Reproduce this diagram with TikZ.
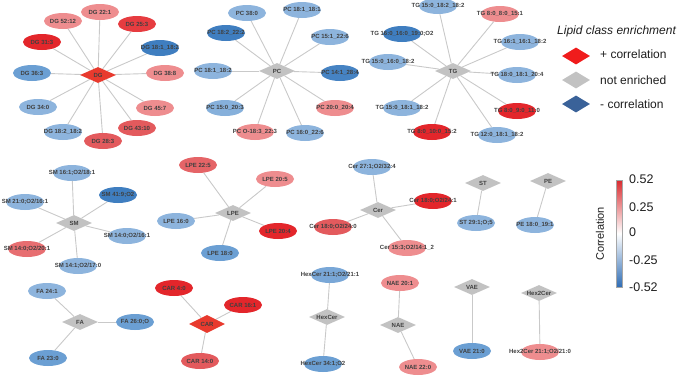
\documentclass[tikz,border=0pt]{standalone}
\usepackage{fontspec}
\setmainfont{Liberation Sans}
\usetikzlibrary{shapes.geometric, backgrounds}
\definecolor{RedHi}{HTML}{E3262B}
\definecolor{RedMd}{HTML}{E35A5D}
\definecolor{RedLo}{HTML}{EE8D8F}
\definecolor{BlueLo}{HTML}{8DB4DD}
\definecolor{BlueMd}{HTML}{6B9FD3}
\definecolor{BlueHi}{HTML}{3F7EC0}
\definecolor{ClassGray}{HTML}{C2C2C2}
\definecolor{ClassRed}{HTML}{E83A2E}
\definecolor{EdgeGray}{HTML}{C9C9C9}
\definecolor{LegRed}{HTML}{F01C1C}
\definecolor{LegBlue}{HTML}{3A6299}
\definecolor{BarRed}{HTML}{D92B2F}
\definecolor{BarBlue}{HTML}{2F6DB5}
\definecolor{Ink}{HTML}{1E1E1E}

\begin{document}
\begin{tikzpicture}[x=1pt, y=-1pt,
    lip/.style={ellipse, minimum width=38pt, minimum height=16pt, inner sep=0pt},
    lipcls/.style={diamond, minimum width=36pt, minimum height=16pt, inner sep=0pt},
    legdia/.style={diamond, minimum width=28pt, minimum height=17pt, inner sep=0pt},
    lnk/.style={draw=EdgeGray, line width=0.9pt},
    every label/.style={font=\fontsize{6}{7}\selectfont\bfseries, text=Ink!85, inner sep=0pt},
    legtxt/.style={font=\fontsize{12}{14}\selectfont, text=Ink, anchor=west, inner sep=0pt},
    cbtxt/.style={font=\fontsize{12.5}{14}\selectfont, text=Ink, anchor=west, inner sep=0pt}
]
\useasboundingbox (0,0) rectangle (685,376);

% DG
\node[lipcls, fill=ClassRed, label={center:{DG}}] (dg) at (98,75) {};
\node[lip, fill=RedLo, label={center:{DG 22:1}}] (dg221) at (100,12) {};
\node[lip, fill=RedLo, label={center:{DG 52:12}}] (dg5212) at (63,21) {};
\node[lip, fill=RedHi!90!white, label={center:{DG 25:3}}] (dg253) at (137,24) {};
\node[lip, fill=RedHi, label={center:{DG 31:3}}] (dg313) at (42,42) {};
\node[lip, fill=BlueHi, label={center:{DG 18:1\_18:2}}] (dg181182) at (160,48) {};
\node[lip, fill=BlueMd, label={center:{DG 36:3}}] (dg363) at (32,73) {};
\node[lip, fill=RedLo, label={center:{DG 38:8}}] (dg388) at (165,73) {};
\node[lip, fill=BlueLo, label={center:{DG 34:0}}] (dg340) at (38,107) {};
\node[lip, fill=RedLo, label={center:{DG 45:7}}] (dg457) at (155,108) {};
\node[lip, fill=BlueLo, label={center:{DG 18:2\_18:2}}] (dg182182) at (63,132) {};
\node[lip, fill=RedMd, label={center:{DG 43:10}}] (dg4310) at (137,128) {};
\node[lip, fill=RedMd, label={center:{DG 28:3}}] (dg283) at (103,141) {};

% PC
\node[lipcls, fill=ClassGray, label={center:{PC}}] (pc) at (277,71) {};
\node[lip, fill=BlueLo, label={center:{PC 38:0}}] (pc380) at (247,13) {};
\node[lip, fill=BlueLo, label={center:{PC 18:1\_18:1}}] (pc181181) at (302,10) {};
\node[lip, fill=BlueHi, label={center:{PC 18:2\_22:2}}] (pc182222) at (226,33) {};
\node[lip, fill=BlueLo, label={center:{PC 15:1\_22:6}}] (pc151226) at (330,37) {};
\node[lip, fill=BlueLo, label={center:{PC 18:1\_18:2}}] (pc181182) at (213,71) {};
\node[lip, fill=BlueHi!85!BlueMd, label={center:{PC 14:1\_28:4}}] (pc141284) at (340,73) {};
\node[lip, fill=BlueLo!80!BlueMd, label={center:{PC 15:0\_20:3}}] (pc150203) at (225,108) {};
\node[lip, fill=RedLo, label={center:{PC 20:0\_20:4}}] (pc200204) at (335,108) {};
\node[lip, fill=RedLo, label={center:{PC O-18:3\_22:3}}] (pco183223) at (255,132) {};
\node[lip, fill=BlueLo, label={center:{PC 16:0\_22:6}}] (pc160226) at (305,133) {};

% TG
\node[lipcls, fill=ClassGray, label={center:{TG}}] (tg) at (453,71) {};
\node[lip, fill=BlueLo, label={center:{TG 15:0\_18:2\_18:2}}] (tg150182182) at (438,6) {};
\node[lip, fill=BlueHi, label={center:{TG 16:0\_16:0\_19:0;O2}}] (tg160160190) at (402,34) {};
\node[lip, fill=BlueLo, label={center:{TG 15:0\_16:0\_18:2}}] (tg150160182) at (388,62) {};
\node[lip, fill=BlueLo, label={center:{TG 15:0\_18:1\_18:2}}] (tg150181182) at (402,108) {};
\node[lip, fill=RedHi, label={center:{TG 8:0\_10:0\_15:2}}] (tg80100152) at (432,132) {};
\node[lip, fill=RedLo, label={center:{TG 8:0\_8:0\_15:1}}] (tg8080151) at (500,14) {};
\node[lip, fill=BlueLo, label={center:{TG 16:1\_16:1\_18:2}}] (tg161161182) at (520,42) {};
\node[lip, fill=BlueLo, label={center:{TG 18:0\_18:1\_20:4}}] (tg180181204) at (517,75) {};
\node[lip, fill=RedHi, label={center:{TG 8:0\_9:0\_11:0}}] (tg8090110) at (517,111) {};
\node[lip, fill=BlueLo, label={center:{TG 12:0\_18:1\_18:2}}] (tg120181182) at (497,135) {};

% SM
\node[lipcls, fill=ClassGray, label={center:{SM}}] (sm) at (74,223) {};
\node[lip, fill=BlueLo, label={center:{SM 16:1;O2/18:1}}] (sm161181) at (72,173) {};
\node[lip, fill=BlueHi, label={center:{SM 41:9;O2}}] (sm4192) at (118,195) {};
\node[lip, fill=BlueLo, label={center:{SM 21:0;O2/16:1}}] (sm210161) at (25,202) {};
\node[lip, fill=BlueLo, label={center:{SM 14:0;O2/16:1}}] (sm140161) at (127,236) {};
\node[lip, fill=RedMd!60!RedLo, label={center:{SM 14:0;O2/20:1}}] (sm140201) at (27,249) {};
\node[lip, fill=BlueLo, label={center:{SM 14:1;O2/17:0}}] (sm141170) at (78,266) {};

% LPE
\node[lipcls, fill=ClassGray, label={center:{LPE}}] (lpe) at (233,213) {};
\node[lip, fill=RedMd!80!RedLo, label={center:{LPE 22:5}}] (lpe225) at (198,165) {};
\node[lip, fill=RedLo, label={center:{LPE 20:5}}] (lpe205) at (275,179) {};
\node[lip, fill=BlueLo, label={center:{LPE 16:0}}] (lpe160) at (176,221) {};
\node[lip, fill=RedHi, label={center:{LPE 20:4}}] (lpe204) at (278,231) {};
\node[lip, fill=BlueMd, label={center:{LPE 18:0}}] (lpe180) at (220,253) {};

% Cer
\node[lipcls, fill=ClassGray, label={center:{Cer}}] (cer) at (378,210) {};
\node[lip, fill=BlueLo, label={center:{Cer 27:1;O2/32:4}}] (cer271324) at (372,167) {};
\node[lip, fill=RedHi, label={center:{Cer 18:0;O2/24:1}}] (cer180241) at (433,201) {};
\node[lip, fill=RedMd, label={center:{Cer 18:0;O2/24:0}}] (cer180240) at (333,227) {};
\node[lip, fill=RedLo, label={center:{Cer 15:3;O2/14:1\_2}}] (cer153141) at (407,248) {};

% ST, PE
\node[lipcls, fill=ClassGray, label={center:{ST}}] (st) at (483,183) {};
\node[lip, fill=BlueLo, label={center:{ST 29:1;O;5}}] (st2915) at (476,223) {};
\node[lipcls, fill=ClassGray, label={center:{PE}}] (pe) at (548,181) {};
\node[lip, fill=BlueLo, label={center:{PE 18:0\_19:1}}] (pe180191) at (535,225) {};

% FA, CAR
\node[lipcls, fill=ClassGray, label={center:{FA}}] (fa) at (80,322) {};
\node[lip, fill=BlueLo, label={center:{FA 24:1}}] (fa241) at (47,291) {};
\node[lip, fill=BlueMd, label={center:{FA 26:0;O}}] (fa260) at (135,322) {};
\node[lip, fill=BlueMd, label={center:{FA 23:0}}] (fa230) at (48,358) {};
\node[lipcls, fill=ClassRed, minimum height=18pt, label={center:{CAR}}] (car) at (207,324) {};
\node[lip, fill=RedHi, label={center:{CAR 4:0}}] (car40) at (174,288) {};
\node[lip, fill=RedHi, label={center:{CAR 16:1}}] (car161) at (243,305) {};
\node[lip, fill=RedMd, label={center:{CAR 14:0}}] (car140) at (200,361) {};

% HexCer, NAE, VAE, Hex2Cer
\node[lipcls, fill=ClassGray, label={center:{HexCer}}] (hexcer) at (327,317) {};
\node[lip, fill=BlueMd!60!BlueLo, label={center:{HexCer 21:1;O2/21:1}}] (hexcer211) at (330,275) {};
\node[lip, fill=BlueMd, label={center:{HexCer 34:1;O2}}] (hexcer341) at (323,364) {};
\node[lipcls, fill=ClassGray, label={center:{NAE}}] (nae) at (398,325) {};
\node[lip, fill=RedLo, label={center:{NAE 20:1}}] (nae201) at (400,283) {};
\node[lip, fill=RedLo, label={center:{NAE 22:0}}] (nae220) at (418,367) {};
\node[lipcls, fill=ClassGray, label={center:{VAE}}] (vae) at (472,287) {};
\node[lip, fill=BlueMd, label={center:{VAE 21:0}}] (vae210) at (472,351) {};
\node[lipcls, fill=ClassGray, label={center:{Hex2Cer}}] (hextwocer) at (539,293) {};
\node[lip, fill=RedLo, label={center:{Hex2Cer 21:1;O2/21:0}}] (hextwocer211) at (540,352) {};

% links
\begin{scope}[on background layer]
\foreach \n in {dg221, dg5212, dg253, dg313, dg181182, dg363, dg388, dg340, dg457, dg182182, dg4310, dg283}
    \draw[lnk] (dg) -- (\n);
\foreach \n in {pc380, pc181181, pc182222, pc151226, pc181182, pc141284, pc150203, pc200204, pco183223, pc160226}
    \draw[lnk] (pc) -- (\n);
\foreach \n in {tg150182182, tg160160190, tg150160182, tg150181182, tg80100152, tg8080151, tg161161182, tg180181204, tg8090110, tg120181182}
    \draw[lnk] (tg) -- (\n);
\foreach \n in {sm161181, sm4192, sm210161, sm140161, sm140201, sm141170}
    \draw[lnk] (sm) -- (\n);
\foreach \n in {lpe225, lpe205, lpe160, lpe204, lpe180}
    \draw[lnk] (lpe) -- (\n);
\foreach \n in {cer271324, cer180241, cer180240, cer153141}
    \draw[lnk] (cer) -- (\n);
\foreach \n in {fa241, fa260, fa230}
    \draw[lnk] (fa) -- (\n);
\foreach \n in {car40, car161, car140}
    \draw[lnk] (car) -- (\n);
\draw[lnk] (st) -- (st2915);
\draw[lnk] (pe) -- (pe180191);
\draw[lnk] (hexcer) -- (hexcer211);
\draw[lnk] (hexcer) -- (hexcer341);
\draw[lnk] (nae) -- (nae201);
\draw[lnk] (nae) -- (nae220);
\draw[lnk] (vae) -- (vae210);
\draw[lnk] (hextwocer) -- (hextwocer211);
\end{scope}

% legend
\node[legtxt, font=\fontsize{12}{14}\selectfont\itshape] (legtitle) at (557,31) {Lipid class enrichment};
\node[legdia, fill=LegRed] (legpos) at (576,56) {};
\node[legtxt] (legpostxt) at (600,54) {+ correlation};
\node[legdia, fill=ClassGray] (legnot) at (576,80) {};
\node[legtxt] (legnottxt) at (600,80) {not enriched};
\node[legdia, fill=LegBlue] (legneg) at (576,104) {};
\node[legtxt] (legnegtxt) at (600,104) {- correlation};

% colour bar
\node[draw=gray!70, line width=0.5pt, minimum width=6pt, minimum height=107pt, inner sep=0pt,
    top color=BarRed, bottom color=BarBlue, middle color=white] (cbar) at (619,233.5) {};
\node[cbtxt] (cbmax) at (629,179) {0.52};
\node[cbtxt] (cbhi) at (629,207) {0.25};
\node[cbtxt] (cbzero) at (629,232) {0};
\node[cbtxt] (cblo) at (629,260) {-0.25};
\node[cbtxt] (cbmin) at (629,287) {-0.52};
\node[font=\fontsize{11}{13}\selectfont, text=Ink, rotate=90, inner sep=0pt] (cbtitle) at (600,234) {Correlation};

\end{tikzpicture}
\end{document}
